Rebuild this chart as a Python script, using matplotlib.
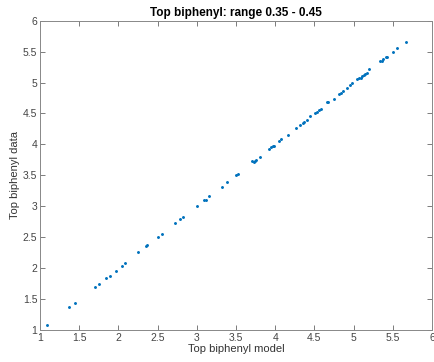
import matplotlib
matplotlib.use("Agg")
import matplotlib.pyplot as plt

# model vs data values
model = [1.09, 1.37, 1.44, 1.70, 1.75, 1.84, 1.89, 1.97, 2.04, 2.08,
         2.25, 2.35, 2.37, 2.51, 2.56, 2.72, 2.79, 2.82, 3.00, 3.09,
         3.12, 3.16, 3.32, 3.38, 3.50, 3.53, 3.71, 3.73, 3.74, 3.76,
         3.80, 3.92, 3.95, 3.97, 3.98, 4.05, 4.08, 4.16, 4.27, 4.32,
         4.35, 4.37, 4.40, 4.45, 4.51, 4.53, 4.56, 4.59, 4.66, 4.68,
         4.75, 4.82, 4.84, 4.86, 4.91, 4.96, 4.98, 5.04, 5.07, 5.09,
         5.11, 5.13, 5.15, 5.17, 5.20, 5.34, 5.36, 5.38, 5.41, 5.43,
         5.50, 5.56, 5.67]
data = [1.08, 1.37, 1.44, 1.69, 1.75, 1.84, 1.88, 1.96, 2.04, 2.08,
        2.26, 2.36, 2.37, 2.50, 2.55, 2.73, 2.80, 2.83, 3.01, 3.10,
        3.11, 3.16, 3.32, 3.39, 3.51, 3.53, 3.73, 3.72, 3.73, 3.75,
        3.80, 3.93, 3.96, 3.98, 3.97, 4.06, 4.09, 4.15, 4.26, 4.32,
        4.34, 4.37, 4.39, 4.46, 4.50, 4.53, 4.56, 4.58, 4.68, 4.69,
        4.73, 4.81, 4.83, 4.86, 4.91, 4.96, 4.99, 5.06, 5.07, 5.08,
        5.10, 5.12, 5.14, 5.16, 5.22, 5.35, 5.34, 5.38, 5.41, 5.42,
        5.50, 5.56, 5.66]

xticks = [1, 1.5, 2, 2.5, 3, 3.5, 4, 4.5, 5, 5.5, 6]
yticks = [1, 1.5, 2, 2.5, 3, 3.5, 4, 4.5, 5, 5.5, 6]

plt.rcParams['font.family'] = ['Liberation Sans', 'DejaVu Sans']

fig = plt.figure(figsize=(4.35, 3.62), dpi=100)
ax = fig.add_axes([0.092, 0.088, 0.901, 0.855])

ax.plot(model, data, '.', color='#0072BD', markersize=2.2)

ax.set_xlim(1, 6)
ax.set_ylim(1, 6)
ax.set_xticks(xticks)
ax.set_yticks(yticks)
ax.set_xticklabels([f'{t:g}' for t in xticks])
ax.set_yticklabels([f'{t:g}' for t in yticks])
ax.tick_params(direction='in', top=True, right=True, length=3.5, width=0.6,
               colors='#666666', labelsize=7.5, labelcolor='#444444', pad=2)
for s in ax.spines.values():
    s.set_color('#888888')
    s.set_linewidth(0.7)

ax.set_xlabel('Top biphenyl model', fontsize=8, color='#333333', labelpad=1)
ax.set_ylabel('Top biphenyl data', fontsize=8, color='#333333', labelpad=2)
ax.set_title('Top biphenyl: range 0.35 - 0.45', fontsize=8.5, fontweight='bold', pad=3)

fig.savefig('out.png', dpi=100)
